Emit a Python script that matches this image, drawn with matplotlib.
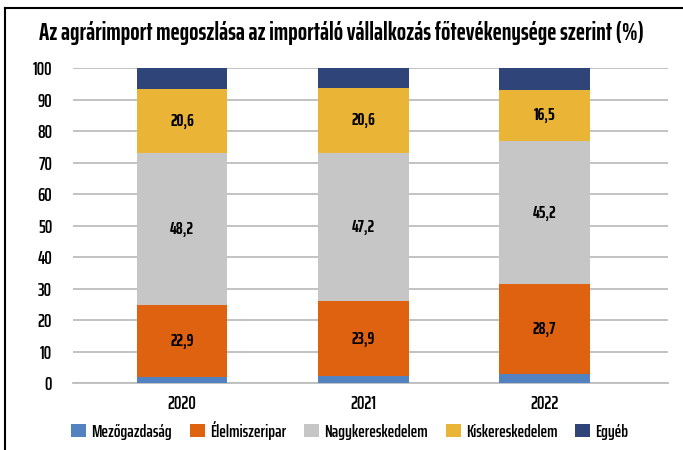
import matplotlib
matplotlib.use('Agg')
import matplotlib.pyplot as plt
import numpy as np
from matplotlib.lines import Line2D

# --- data ---
years = ['2020', '2021', '2022']
series_names = ['Mezőgazdaság', 'Élelmiszeripar', 'Nagykereskedelem', 'Kiskereskedelem', 'Egyéb']
mezogazdasag = [1.9, 2.2, 2.9]
elelmiszeripar = [22.9, 23.9, 28.7]
nagyker = [48.2, 47.2, 45.2]
kisker = [20.6, 20.6, 16.5]
egyeb = [6.4, 6.1, 6.7]
labelled = [False, True, True, True, False]
title = 'Az agrárimport megoszlása az importáló vállalkozás főtevékenysége szerint (%)'

colors = ['#5283C0', '#DE6210', '#C5C6C5', '#EAB436', '#2F4479']
plt.rcParams['font.family'] = ['Saira ExtraCondensed', 'Barlow Condensed', 'DejaVu Sans']
plt.rcParams['font.weight'] = 600

fig = plt.figure(figsize=(6.83, 4.5), dpi=100)
rnd = fig.canvas.get_renderer()


def fit_size(s, px, weight, base=12.):
    # font size that gives the text the wanted width in pixels
    t = fig.text(0, 0, s, fontsize=base, fontweight=weight)
    w = t.get_window_extent(rnd).width
    t.remove()
    return base * px / w


lab_fs = fit_size('20,6', 24, 'bold')
tick_fs = fit_size('100', 20, 600)
leg_fs = fit_size('Nagykereskedelem', 104, 600)
ttl_fs = fit_size(title, 604, 'bold')

ax = fig.add_axes([0.107, 0.148, 0.871, 0.70])

x = np.arange(len(years))
bottom = np.zeros(len(years))
for name, vals, col, lab in zip(series_names,
                                [mezogazdasag, elelmiszeripar, nagyker, kisker, egyeb],
                                colors, labelled):
    vals = np.array(vals)
    ax.bar(x, vals, 0.5, bottom=bottom, color=col, label=name, zorder=3)
    if lab:
        for xi, b, v in zip(x, bottom, vals):
            ax.text(xi, b + v / 2, f'{v:.1f}'.replace('.', ','), ha='center', va='center',
                    fontsize=lab_fs, fontweight='bold', color='black', zorder=4)
    bottom += vals

ax.set_xlim(-0.6, 2.68)
ax.set_ylim(0, 100)
ax.set_yticks(range(0, 101, 10))
ax.set_xticks(x)
ax.set_xticklabels(years)
ax.yaxis.grid(True, color='#BDBDBD', linewidth=1.3, zorder=0)
for s in ['top', 'right', 'left']:
    ax.spines[s].set_visible(False)
ax.spines['bottom'].set_color('#BDBDBD')
ax.spines['bottom'].set_linewidth(1.3)
ax.tick_params(axis='both', length=0, labelsize=tick_fs, colors='black')
ax.tick_params(axis='x', pad=8)
ax.tick_params(axis='y', pad=15)

fig.text(0.057, 0.927, title, fontsize=ttl_fs, fontweight='bold', ha='left', va='center')

em = leg_fs * 100 / 72  # pixels per em in the legend
fig.legend(loc='center', bbox_to_anchor=(0.512, 0.044), ncol=5, frameon=False,
           prop={'size': leg_fs, 'weight': 600}, handlelength=15 / em, handleheight=14 / em,
           handletextpad=5 / em, columnspacing=18 / em, borderaxespad=0)

# frame lines (top and left)
fig.add_artist(Line2D([0.008, 1.0], [0.983, 0.983], color='black', linewidth=1.5,
                      transform=fig.transFigure))
fig.add_artist(Line2D([0.008, 0.008], [0.0, 0.983], color='black', linewidth=1.5,
                      transform=fig.transFigure))

fig.savefig('out.png', dpi=100)
